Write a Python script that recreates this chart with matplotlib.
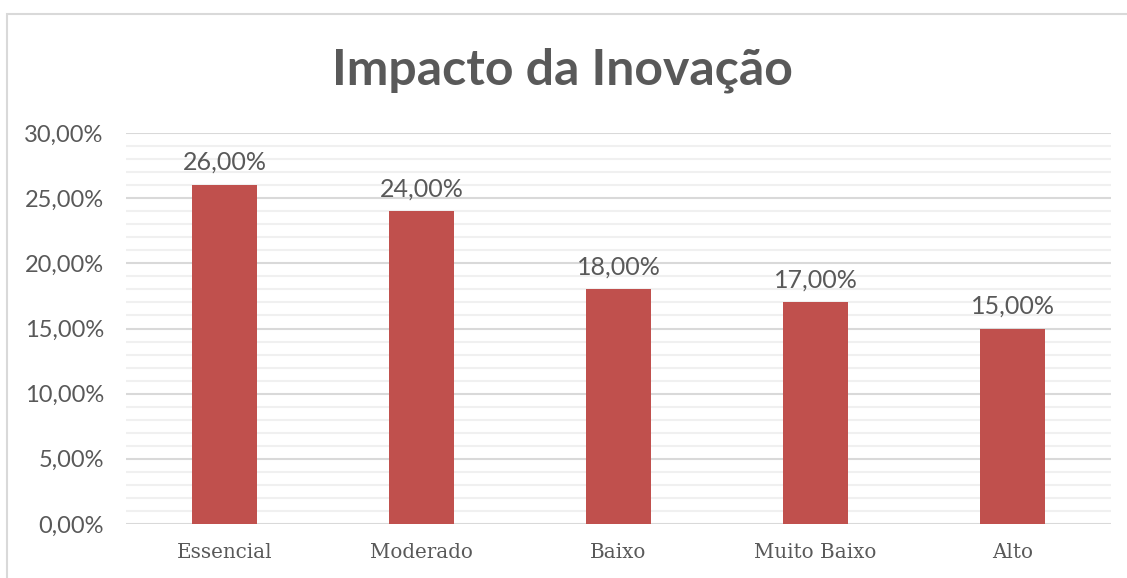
import matplotlib
matplotlib.use("Agg")
import matplotlib.pyplot as plt
from matplotlib.ticker import MultipleLocator, FuncFormatter
from matplotlib.patches import Rectangle

categories = ["Essencial", "Moderado", "Baixo", "Muito Baixo", "Alto"]
values = [26.0, 24.0, 18.0, 17.0, 15.0]
title = "Impacto da Inovação"

W, H = 1127, 578
fig = plt.figure(figsize=(W / 100, H / 100), dpi=100)
fig.patch.set_facecolor("white")

# chart frame
fig.patches.append(Rectangle((7 / W, -0.05), 1.1, 1 - 14 / H + 0.05,
                             transform=fig.transFigure, fill=False,
                             edgecolor="#D9D9D9", linewidth=1.5, zorder=0))

ax = fig.add_axes([126 / W, 1 - 524 / H, (1111 - 126) / W, (524 - 133) / H])
text_color = "#595959"
bar_color = "#C0504D"

x = range(len(categories))
bars = ax.bar(x, values, width=0.335, color=bar_color, zorder=3)
ax.set_xlim(-0.5, len(categories) - 0.5)
ax.set_ylim(0, 30)

ax.yaxis.set_major_locator(MultipleLocator(5))
ax.yaxis.set_minor_locator(MultipleLocator(1))
ax.yaxis.set_major_formatter(FuncFormatter(lambda v, p: f"{v:.2f}%".replace(".", ",")))
ax.grid(axis="y", which="major", color="#D9D9D9", linewidth=1.5, zorder=0)
ax.grid(axis="y", which="minor", color="#F0F0F0", linewidth=1.5, zorder=0)
ax.grid(axis="x", visible=False)

for s in ax.spines.values():
    s.set_visible(False)
ax.tick_params(axis="both", which="both", length=0)
ax.tick_params(axis="y", colors=text_color, labelsize=17, pad=16)
ax.tick_params(axis="x", colors=text_color, pad=14)
for lab in ax.get_yticklabels():
    lab.set_fontfamily("Lato")
ax.set_xticks(list(x))
ax.set_xticklabels(categories, fontfamily="DejaVu Serif", color=text_color, fontsize=14.3)

for i, v in enumerate(values):
    ax.annotate(f"{v:.2f}%".replace(".", ","), (i, v), xytext=(0, 8),
                textcoords="offset points", ha="center", va="bottom",
                fontsize=18, color=text_color, fontfamily="Lato")

fig.text(562 / W, 1 - 70 / H, title, ha="center", va="center",
         fontsize=36, fontweight="bold", color=text_color, fontfamily="Lato")

fig.savefig("out.png", dpi=100)
